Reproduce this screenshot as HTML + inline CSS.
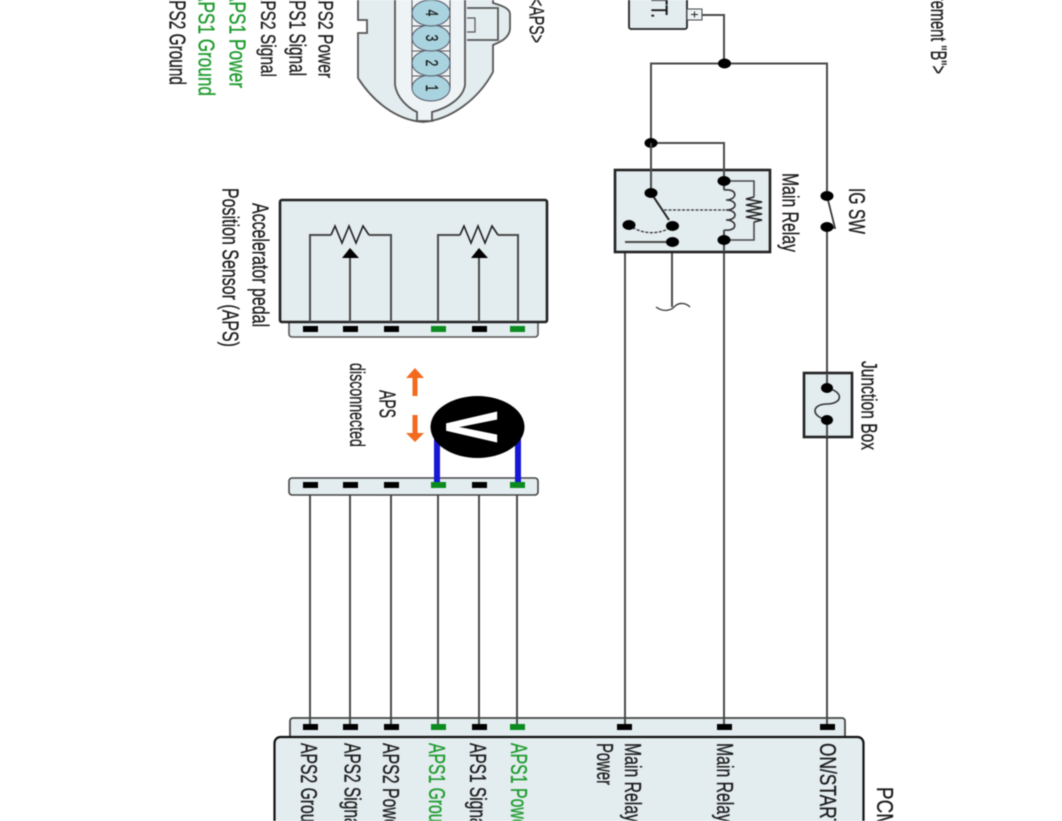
<!DOCTYPE html>
<html><head><meta charset="utf-8">
<style>
html,body{margin:0;padding:0;background:#fff;width:1062px;height:821px;overflow:hidden}
svg{display:block;filter:blur(.45px)}
text{font-family:"Liberation Sans",sans-serif;font-size:15.5px;fill:#1a1a1a;stroke:#1a1a1a;stroke-width:.2}
text.g{fill:#1c9a2c;stroke:#1c9a2c}
.w{fill:none;stroke:#4a4a4a;stroke-width:2}
.b{fill:#e3ecef;stroke:#222;stroke-width:2.6}
.n{fill:#000}
.p{fill:#000}
.q{fill:#0a8a1f}
</style></head><body>
<svg width="1062" height="821" viewBox="0 0 1062 821" xmlns="http://www.w3.org/2000/svg">
<!-- connector -->
<path d="M358 -5V20H367V33H358V78C372 100 395 120 423 122C450 120 478 100 493 72V45C500 42 510 38 510 28V14C510 8 500 5 493 3V-5Z" fill="#e3ecef" stroke="#555" stroke-width="1.8"/>
<path d="M395 -5V85C397 98 408 108 417 112V121H432V112C448 108 463 98 465 85V-5Z" fill="#eef3f5" stroke="#555" stroke-width="1.8"/>
<path d="M467 8H498V40H467" fill="none" stroke="#555" stroke-width="1.8"/>
<path d="M467 18H475V32H467" fill="none" stroke="#555" stroke-width="1.2"/>
<path d="M412 -5V88M450 -5V88M412 26H450M412 51H450M412 76H450" stroke="#555" fill="none"/>
<g fill="#a9d3df" stroke="#556">
<ellipse cx="431" cy="88" rx="19" ry="13"/><ellipse cx="431" cy="63" rx="19" ry="13"/><ellipse cx="431" cy="38" rx="19" ry="13"/><ellipse cx="431" cy="13" rx="19" ry="13"/>
</g>
<g text-anchor="middle">
<text transform="translate(426,88) rotate(90) scale(1,1.5)" style="font-size:12px">1</text>
<text transform="translate(426,63) rotate(90) scale(1,1.5)" style="font-size:12px">2</text>
<text transform="translate(426,38) rotate(90) scale(1,1.5)" style="font-size:12px">3</text>
<text transform="translate(426,13) rotate(90) scale(1,1.5)" style="font-size:12px">4</text>
</g>

<!-- wires -->
<path class="w" d="M702 15H724V63M651 193V63.5H827V196M651 143H724V181M827 227V388M827 420V727M724 240V727M672 226V307M672 242H625V727"/>
<path class="w" d="M310 495V727M350 495V727M391 495V727M438 495V727M479 495V727M517 495V727"/>

<!-- battery -->
<rect class="b" x="629" y="-6" width="58" height="35" rx="2" style="stroke-width:1.8"/>
<rect x="687" y="9" width="15" height="11" fill="#eef2f3" stroke="#444"/>
<path d="M691 14.5H698M694.5 11.5V17.5" stroke="#222" fill="none"/>
<ellipse class="n" cx="724.5" cy="63.5" rx="6.5" ry="5"/>
<ellipse class="n" cx="651" cy="143" rx="6.5" ry="5"/>

<!-- relay -->
<rect class="b" x="615" y="170" width="155" height="82"/>
<path class="w" d="M651 143V193M724 143V181M625 242H672M724 240V252M651 193V170"/>
<path d="M724 181H754V197M754 222V240H724" class="w" style="stroke-width:1.6"/>
<path d="M754 197L746 199L762 202L746 205L762 208L746 211L762 214L746 217L762 220L754 222" fill="none" stroke="#222" stroke-width="1.5"/>
<path d="M724 190C738 188 738 200 726 200C738 200 738 210 726 210C738 210 738 220 726 220C738 220 738 232 724 230" fill="none" stroke="#333" stroke-width="1.6"/>
<path d="M724 181V190M724 230V240" class="w"/>
<path d="M651 193L669 220" stroke="#222" stroke-width="2" fill="none"/>
<path d="M664 210H725" stroke="#333" stroke-width="1.3" stroke-dasharray="3 1.5" fill="none"/>
<path d="M629 225C640 234 660 236 672 226" stroke="#333" stroke-width="1.3" stroke-dasharray="3 1.5" fill="none"/>
<ellipse class="n" cx="651" cy="193" rx="6.5" ry="5"/>
<ellipse class="n" cx="724" cy="181" rx="6.5" ry="5"/>
<ellipse class="n" cx="629" cy="225" rx="6.5" ry="5"/>
<ellipse class="n" cx="672.5" cy="226" rx="6.5" ry="5"/>
<ellipse class="n" cx="672.5" cy="242" rx="6.5" ry="5"/>
<ellipse class="n" cx="724" cy="240" rx="6.5" ry="5"/>
<path d="M656 307C664 313 672 310 675 306C680 302 686 303 690 307" fill="none" stroke="#333" stroke-width="1.3"/>

<!-- IG SW -->
<path d="M827 196L835 228L827 227" fill="none" stroke="#333" stroke-width="1.7"/>
<ellipse class="n" cx="827" cy="196" rx="6.5" ry="5"/>
<ellipse class="n" cx="827" cy="227" rx="6.5" ry="5"/>

<!-- junction -->
<rect x="804" y="373" width="48" height="64" fill="#e3ecef" stroke="#222" stroke-width="2.6"/>
<path class="w" d="M827 373V388M827 420V437"/>
<path d="M827 388C845 392 842 404 827 404C812 404 810 416 827 420" fill="none" stroke="#333" stroke-width="1.6"/>
<ellipse class="n" cx="827" cy="388" rx="6" ry="5"/>
<ellipse class="n" cx="827" cy="420" rx="6" ry="5"/>

<!-- APS sensor -->
<rect x="289" y="318" width="249" height="19" rx="3" fill="#e3ecef" stroke="#555" stroke-width="1.6"/>
<rect class="b" x="280" y="200" width="267" height="122" rx="2"/>
<path class="w" d="M310 322V235H331M369 235H391V322M350 322V256M438 322V235H460M498 235H518V322M479 322V256"/>
<path d="M331 235L335 226L342 243L349 226L356 243L363 226L369 235M460 235L464 226L471 243L478 226L485 243L492 226L498 235" fill="none" stroke="#222" stroke-width="1.6"/>
<path class="n" d="M350 248L359 258H342ZM479 248L488 258H471Z"/>
<g>
<rect class="p" x="303" y="326" width="15" height="6"/><rect class="p" x="343" y="326" width="15" height="6"/><rect class="p" x="384" y="326" width="15" height="6"/>
<rect class="q" x="431" y="326" width="15" height="6"/><rect class="p" x="472" y="326" width="15" height="6"/><rect class="q" x="510" y="326" width="15" height="6"/>
</g>

<!-- mating connector -->
<rect x="289" y="478" width="249" height="17" rx="3" fill="#e3ecef" stroke="#444" stroke-width="1.6"/>
<rect x="434" y="435" width="6" height="48" fill="#1717d8"/>
<rect x="515" y="435" width="6" height="48" fill="#1717d8"/>
<rect class="p" x="303" y="482" width="15" height="6"/><rect class="p" x="343" y="482" width="15" height="6"/><rect class="p" x="384" y="482" width="15" height="6"/>
<rect class="q" x="431" y="482" width="15" height="6"/><rect class="p" x="472" y="482" width="15" height="6"/><rect class="q" x="510" y="482" width="15" height="6"/>
<ellipse class="n" cx="477.5" cy="427" rx="47" ry="31"/>
<text transform="translate(447,412) rotate(90) scale(1,1.78)" textLength="30" lengthAdjust="spacingAndGlyphs" style="font-size:40px;font-weight:bold;fill:#fff;stroke:#fff;stroke-width:1">V</text>
<path d="M415 368L424 378H417.5V396H412.5V378H406Z" fill="#f26a1e"/>
<path d="M415 442L424 433H417.5V415H412.5V433H406Z" fill="#f26a1e"/>

<!-- PCM -->
<rect x="290" y="718" width="555" height="30" rx="3" fill="#e3ecef" stroke="#444" stroke-width="1.8"/>
<path class="w" d="M310 718V727M350 718V727M391 718V727M438 718V727M479 718V727M517 718V727M625 718V727M724 718V727M827 718V727"/>
<g>
<rect class="p" x="303" y="724" width="15" height="6"/><rect class="p" x="343" y="724" width="15" height="6"/><rect class="p" x="384" y="724" width="15" height="6"/>
<rect class="q" x="431" y="724" width="15" height="6"/><rect class="p" x="472" y="724" width="15" height="6"/><rect class="q" x="510" y="724" width="15" height="6"/>
<rect class="p" x="617" y="724" width="15" height="6"/><rect class="p" x="717" y="724" width="15" height="6"/><rect class="p" x="820" y="724" width="15" height="6"/>
</g>
<rect x="274.5" y="737" width="589" height="100" rx="6" fill="#e3ecef" stroke="#111" stroke-width="2.2"/>

<!-- labels -->
<g>
<text transform="translate(169.5,-10) rotate(90) scale(1,1.5)" textLength="95" lengthAdjust="spacingAndGlyphs">APS2 Ground</text>
<text class="g" transform="translate(198.5,-10) rotate(90) scale(1,1.5)" textLength="106" lengthAdjust="spacingAndGlyphs">APS1 Ground</text>
<text class="g" transform="translate(229.5,-10) rotate(90) scale(1,1.5)" textLength="98" lengthAdjust="spacingAndGlyphs">APS1 Power</text>
<text transform="translate(261,-10) rotate(90) scale(1,1.4)" textLength="87" lengthAdjust="spacingAndGlyphs">APS2 Signal</text>
<text transform="translate(289.5,-10) rotate(90) scale(1,1.5)" textLength="86" lengthAdjust="spacingAndGlyphs">APS1 Signal</text>
<text transform="translate(318.5,-10) rotate(90) scale(1,1.4)" textLength="88" lengthAdjust="spacingAndGlyphs">APS2 Power</text>
<text transform="translate(529.5,-2) rotate(90) scale(1,1.4)" textLength="45" lengthAdjust="spacingAndGlyphs">&lt;APS&gt;</text>
<text transform="translate(931,-48) rotate(90) scale(1,1.45)" textLength="122" lengthAdjust="spacingAndGlyphs">Measurement "B"&gt;</text>
<text transform="translate(651.5,-26) rotate(90) scale(1,1.5)" textLength="44" lengthAdjust="spacingAndGlyphs">BATT.</text>
<text transform="translate(782.5,173) rotate(90) scale(1,1.5)" textLength="79" lengthAdjust="spacingAndGlyphs">Main Relay</text>
<text transform="translate(849,188) rotate(90) scale(1,1.5)" textLength="46" lengthAdjust="spacingAndGlyphs">IG SW</text>
<text transform="translate(861.5,361) rotate(90) scale(1,1.45)" textLength="89" lengthAdjust="spacingAndGlyphs">Junction Box</text>
<text transform="translate(252.5,203) rotate(90) scale(1,1.5)" textLength="124" lengthAdjust="spacingAndGlyphs">Accelerator pedal</text>
<text transform="translate(222.5,188) rotate(90) scale(1,1.5)" textLength="159" lengthAdjust="spacingAndGlyphs">Position Sensor (APS)</text>
<text transform="translate(379.5,390) rotate(90) scale(1,1.5)" textLength="28" lengthAdjust="spacingAndGlyphs">APS</text>
<text transform="translate(350,363) rotate(90) scale(1,1.4)" textLength="84" lengthAdjust="spacingAndGlyphs">disconnected</text>

<text transform="translate(301,743) rotate(90) scale(1,1.5)" textLength="97" lengthAdjust="spacingAndGlyphs">APS2 Ground</text>
<text transform="translate(344.5,743) rotate(90) scale(1,1.5)" textLength="87" lengthAdjust="spacingAndGlyphs">APS2 Signal</text>
<text transform="translate(383,743) rotate(90) scale(1,1.5)" textLength="90" lengthAdjust="spacingAndGlyphs">APS2 Power</text>
<text class="g" transform="translate(429,743) rotate(90) scale(1,1.5)" textLength="97" lengthAdjust="spacingAndGlyphs">APS1 Ground</text>
<text transform="translate(470,743) rotate(90) scale(1,1.5)" textLength="87" lengthAdjust="spacingAndGlyphs">APS1 Signal</text>
<text class="g" transform="translate(511,743) rotate(90) scale(1,1.5)" textLength="90" lengthAdjust="spacingAndGlyphs">APS1 Power</text>
<text transform="translate(597,743) rotate(90) scale(1,1.5)" textLength="42" lengthAdjust="spacingAndGlyphs">Power</text>
<text transform="translate(625,743) rotate(90) scale(1,1.5)" textLength="79" lengthAdjust="spacingAndGlyphs">Main Relay</text>
<text transform="translate(717,743) rotate(90) scale(1,1.5)" textLength="79" lengthAdjust="spacingAndGlyphs">Main Relay</text>
<text transform="translate(820,743) rotate(90) scale(1,1.5)" textLength="86" lengthAdjust="spacingAndGlyphs">ON/START</text>
<text transform="translate(877,787) rotate(90) scale(1,1.5)" textLength="42" lengthAdjust="spacingAndGlyphs">PCM</text>
</g>
</svg>
</body></html>
